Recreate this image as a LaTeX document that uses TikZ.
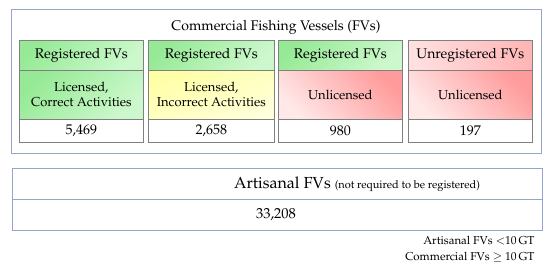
\documentclass[tikz,border=0pt]{standalone}
\usepackage[T1]{fontenc}
\usepackage{mathpazo}
\definecolor{gdark}{RGB}{150,234,150}
\definecolor{glight}{RGB}{205,248,205}
\definecolor{ydark}{RGB}{255,255,165}
\definecolor{ylight}{RGB}{255,255,218}
\definecolor{rdark}{RGB}{255,155,155}
\definecolor{rlight}{RGB}{255,232,232}
\definecolor{rhdark}{RGB}{255,180,180}
\definecolor{rhlight}{RGB}{255,226,226}
\definecolor{cellborder}{RGB}{128,128,128}
\definecolor{frameborder}{RGB}{150,165,205}
\tikzset{
  cellbox/.style={draw=cellborder, line width=0.7pt, anchor=north west, inner sep=0pt, align=center},
  greencell/.style={cellbox, shade, top color=gdark, bottom color=glight, shading angle=45},
  yellowcell/.style={cellbox, shade, left color=ydark, right color=ylight, shading angle=20},
  redcell/.style={cellbox, shade, top color=rdark, bottom color=rlight, shading angle=-45},
  redhead/.style={cellbox, shade, left color=rhlight, right color=rhdark},
  whitecell/.style={cellbox, fill=white},
  frame/.style={draw=frameborder, line width=0.8pt, fill=white},
  hdr/.style={font=\fontsize{14}{16}\selectfont},
  mid/.style={font=\fontsize{13}{15}\selectfont},
  num/.style={font=\fontsize{14}{16}\selectfont},
  legend/.style={anchor=east, font=\fontsize{11.5}{13}\selectfont},
}
\begin{document}
\begin{tikzpicture}[x=1pt,y=-1pt]
\useasboundingbox (0,0) rectangle (550,270);
\fill[white] (0,0) rectangle (550,270);
% outer frame
\draw[frame] (11,9) rectangle (541,153);
\node[hdr] (title) at (276,27) {Commercial Fishing Vessels (FVs)};
% column 1
\node[greencell, hdr, minimum width=124pt, minimum height=30pt] (h1) at (19,40) {Registered FVs};
\node[greencell, mid, minimum width=124pt, minimum height=49pt] (m1) at (19,70) {Licensed,\\Correct Activities};
\node[whitecell, num, minimum width=124pt, minimum height=23pt] (n1) at (19,119) {5,469};
% column 2
\node[greencell, hdr, minimum width=126pt, minimum height=30pt] (h2) at (148,40) {Registered FVs};
\node[yellowcell, mid, minimum width=126pt, minimum height=49pt] (m2) at (148,70) {Licensed,\\Incorrect Activities};
\node[whitecell, num, minimum width=126pt, minimum height=23pt] (n2) at (148,119) {2,658};
% column 3
\node[greencell, hdr, minimum width=124pt, minimum height=30pt] (h3) at (278,40) {Registered FVs};
\node[redcell, mid, minimum width=124pt, minimum height=49pt] (m3) at (278,70) {Unlicensed};
\node[whitecell, num, minimum width=124pt, minimum height=23pt] (n3) at (278,119) {980};
% column 4
\node[redhead, hdr, minimum width=124pt, minimum height=30pt] (h4) at (408,40) {Unregistered FVs};
\node[redcell, mid, minimum width=124pt, minimum height=49pt] (m4) at (408,70) {Unlicensed};
\node[whitecell, num, minimum width=124pt, minimum height=23pt] (n4) at (408,119) {197};
% artisanal box
\draw[frame] (12,168) rectangle (542,230);
\draw[frameborder, line width=0.8pt] (12,199) -- (542,199);
\node[anchor=base west, inner sep=0pt] (art) at (234,189) {\fontsize{16}{18}\selectfont Artisanal FVs \fontsize{11}{12}\selectfont(not required to be registered)};
\node[font=\fontsize{14.5}{16}\selectfont] (artnum) at (276,215) {33,208};
% legend
\node[legend] (leg1) at (538,241) {Artisanal FVs $<$10\,GT};
\node[legend] (leg2) at (538,257) {Commercial FVs $\geq$ 10\,GT};
\end{tikzpicture}
\end{document}
